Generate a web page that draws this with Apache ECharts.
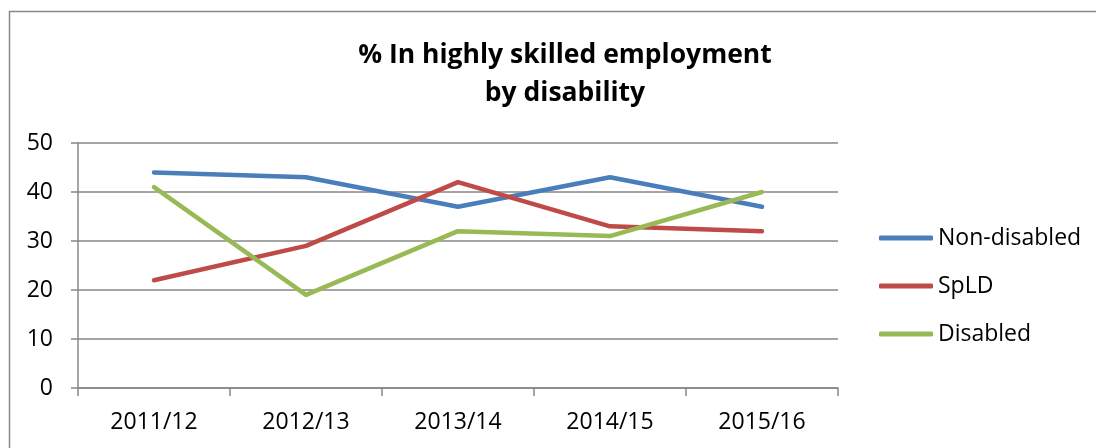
<!DOCTYPE html>
<html>
<head>
<meta charset="utf-8">
<script src="https://cdn.jsdelivr.net/npm/echarts@6/dist/echarts.min.js"></script>
<style>html,body{margin:0;padding:0;background:#fff}#c{width:1096px;height:448px}</style>
</head>
<body>
<div id="c"></div>
<script>
const categories = ['2011/12', '2012/13', '2013/14', '2014/15', '2015/16'];
const nonDisabled = [44, 43, 37, 43, 37];
const spld = [22, 29, 42, 33, 32];
const disabled = [41, 19, 32, 31, 40];
const seriesNames = ['Non-disabled', 'SpLD', 'Disabled'];
const colors = ['#4A7EBB', '#BE4B48', '#98B954'];
const titleText = '% In highly skilled employment\nby disability';

const font = '"Open Sans", sans-serif';
const chart = echarts.init(document.getElementById('c'));
function mk(name, data, color) {
  return {
    name: name, type: 'line', data: data, symbol: 'none', smooth: false,
    lineStyle: { color: color, width: 4.5, cap: 'round', join: 'round' },
    itemStyle: { color: color }, animation: false
  };
}
chart.setOption({
  animation: false,
  color: colors,
  title: {
    text: titleText, left: 560, top: 31, textAlign: 'center',
    textStyle: { fontFamily: font, fontWeight: 'bold', fontSize: 26.5, lineHeight: 38, color: '#000' }
  },
  graphic: [{
    type: 'rect', shape: { x: 9.5, y: 11.5, width: 1100, height: 460 },
    style: { fill: 'none', stroke: '#888', lineWidth: 1.5 }, silent: true
  }],
  legend: {
    orient: 'vertical', left: 874, top: 219, itemGap: 20,
    icon: 'roundRect', itemWidth: 54, itemHeight: 5,
    textStyle: { fontFamily: font, fontSize: 23, color: '#000', lineHeight: 28, padding: [0,0,0,0] },
    data: seriesNames
  },
  grid: { left: 78, right: 258, top: 143, bottom: 60, containLabel: false },
  xAxis: {
    type: 'category', data: categories, boundaryGap: true,
    axisLine: { lineStyle: { color: '#878787', width: 1.5 } },
    axisTick: { show: true, length: 8, lineStyle: { color: '#878787', width: 1.5 } },
    axisLabel: { fontFamily: font, fontSize: 23, color: '#000', margin: 23 },
    splitLine: { show: false }
  },
  yAxis: {
    type: 'value', min: 0, max: 50, interval: 10,
    axisLine: { show: true, lineStyle: { color: '#878787', width: 1.5 } },
    axisTick: { show: true, length: 7, lineStyle: { color: '#878787', width: 1.5 } },
    axisLabel: { fontFamily: font, fontSize: 23, color: '#000', margin: 25 },
    splitLine: { show: true, lineStyle: { color: '#878787', width: 1.5 } }
  },
  series: [
    mk(seriesNames[0], nonDisabled, colors[0]),
    mk(seriesNames[1], spld, colors[1]),
    mk(seriesNames[2], disabled, colors[2])
  ]
});
</script>
</body>
</html>
